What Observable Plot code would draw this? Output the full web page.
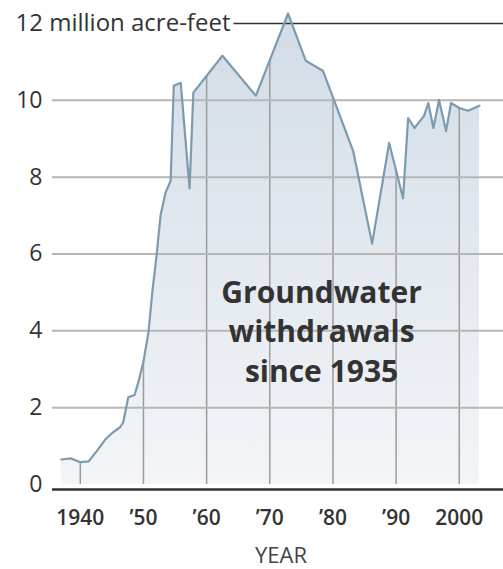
<!DOCTYPE html>
<html><head><meta charset="utf-8">
<script src="https://cdn.jsdelivr.net/npm/d3@7"></script>
<script src="https://cdn.jsdelivr.net/npm/@observablehq/plot@0.6"></script>
<style>body{margin:0;background:#fff}</style>
</head><body><div id="chart"></div>
<script>
// Groundwater withdrawals, million acre-feet
const years = [1937.0, 1938.5, 1940.0, 1941.3, 1942.7, 1944.0, 1945.2, 1946.3, 1946.8, 1947.6,
  1948.6, 1949.2, 1950.0, 1950.8, 1951.4, 1952.1, 1952.7, 1953.5, 1954.3, 1954.8,
  1955.9, 1957.3, 1957.9, 1962.5, 1967.8, 1972.9, 1975.7, 1978.4, 1980.2, 1983.2,
  1986.2, 1988.9, 1991.1, 1991.9, 1992.9, 1994.4, 1995.1, 1995.9, 1996.8, 1997.9,
  1998.7, 2000.0, 2001.4, 2003.2];
const values = [0.65, 0.68, 0.58, 0.60, 0.89, 1.18, 1.36, 1.49, 1.62, 2.27,
  2.33, 2.67, 3.2, 3.97, 5.0, 6.0, 7.0, 7.6, 7.9, 10.38,
  10.46, 7.71, 10.2, 11.16, 10.12, 12.26, 11.03, 10.77, 9.99, 8.68,
  6.27, 8.89, 7.45, 9.54, 9.28, 9.59, 9.93, 9.28, 10.01, 9.2,
  9.93, 9.8, 9.73, 9.86];

const yTicks = [0, 2, 4, 6, 8, 10];
const topTick = 12;
const topLabel = "12 million acre-feet";
const xTicks = [1940, 1950, 1960, 1970, 1980, 1990, 2000];
const xTickLabels = ["1940", "’50", "’60", "’70", "’80", "’90", "2000"];
const xLabel = "YEAR";
const annotation = "Groundwater\nwithdrawals\nsince 1935";
const annotationAt = [{year: 1978.2, value: 4.03}];

const data = years.map((year, i) => ({year, value: values[i]}));
const interp = d3.scaleLinear().domain(years).range(values).clamp(true);
const vgrid = xTicks.map(x => ({x, top: interp(x)}));

const chart = Plot.plot({
  width: 503, height: 569,
  marginLeft: 52, marginRight: 0, marginTop: 23, marginBottom: 85,
  x: {domain: [1935.6, 2007], axis: null},
  y: {domain: [0, 12], axis: null},
  style: {fontFamily: "'Open Sans', sans-serif", background: "white"},
  marks: [
    Plot.areaY(data, {x: "year", y: "value", fill: "url(#gw-grad)"}),
    Plot.ruleX(vgrid, {x: "x", y1: 0, y2: "top", stroke: "#9c9c9c", strokeWidth: 1.5}),
    Plot.ruleY(yTicks.filter(d => d > 0), {stroke: "#b6b6b6", strokeWidth: 2}),
    Plot.ruleY([topTick], {stroke: "#333", strokeWidth: 1.5, className: "top-rule"}),
    Plot.line(data, {x: "year", y: "value", stroke: "#7d9bb0", strokeWidth: 2.2}),
    Plot.ruleY([0], {stroke: "#333", strokeWidth: 2.5, dy: 5}),
    Plot.text([topTick], {y: d => d, text: [topLabel], frameAnchor: "left", textAnchor: "start",
      lineAnchor: "middle", dx: -37, fontSize: 24, fill: "#333", className: "top-label"}),
    Plot.text(yTicks, {y: d => d, text: d => String(d), frameAnchor: "left", textAnchor: "end",
      lineAnchor: "middle", dx: -10, fontSize: 23, fill: "#333"}),
    Plot.text(xTicks, {x: d => d, text: xTickLabels, frameAnchor: "bottom", lineAnchor: "middle",
      dy: 34, fontSize: 21, fontWeight: 600, fill: "#333"}),
    Plot.text([xLabel], {text: d => d, frameAnchor: "bottom", lineAnchor: "middle", dy: 71, dx: 3,
      fontSize: 22, fill: "#444"}),
    Plot.text(annotationAt, {x: "year", y: "value", text: () => annotation, fontSize: 30,
      fontWeight: 700, lineHeight: 1.33, lineAnchor: "middle", fill: "#333"})
  ]
});

const ns = "http://www.w3.org/2000/svg";
const defs = document.createElementNS(ns, "defs");
defs.innerHTML = '<linearGradient id="gw-grad" x1="0" y1="0" x2="0" y2="1">' +
  '<stop offset="0" stop-color="#d2dce6"/><stop offset="1" stop-color="#f3f5f8"/></linearGradient>';
chart.insertBefore(defs, chart.firstChild);
document.getElementById("chart").appendChild(chart);

// white backing (just above the 12 rule, below the data line) so the rule starts after the label
function maskTopRule() {
  const lbl = chart.querySelector(".top-label text");
  const rule = chart.querySelector(".top-rule");
  if (!lbl || !rule) return;
  const old = chart.querySelector("rect.top-mask");
  if (old) old.remove();
  const r = lbl.getBoundingClientRect();
  const c = chart.getBoundingClientRect();
  const rect = document.createElementNS(ns, "rect");
  rect.setAttribute("class", "top-mask");
  rect.setAttribute("x", r.left - c.left - 2);
  rect.setAttribute("y", r.top - c.top);
  rect.setAttribute("width", r.width + 5);
  rect.setAttribute("height", r.height);
  rect.setAttribute("fill", "white");
  rule.parentNode.insertBefore(rect, rule.nextSibling);
}
maskTopRule();
if (document.fonts && document.fonts.ready) document.fonts.ready.then(maskTopRule);
</script>
</body></html>
